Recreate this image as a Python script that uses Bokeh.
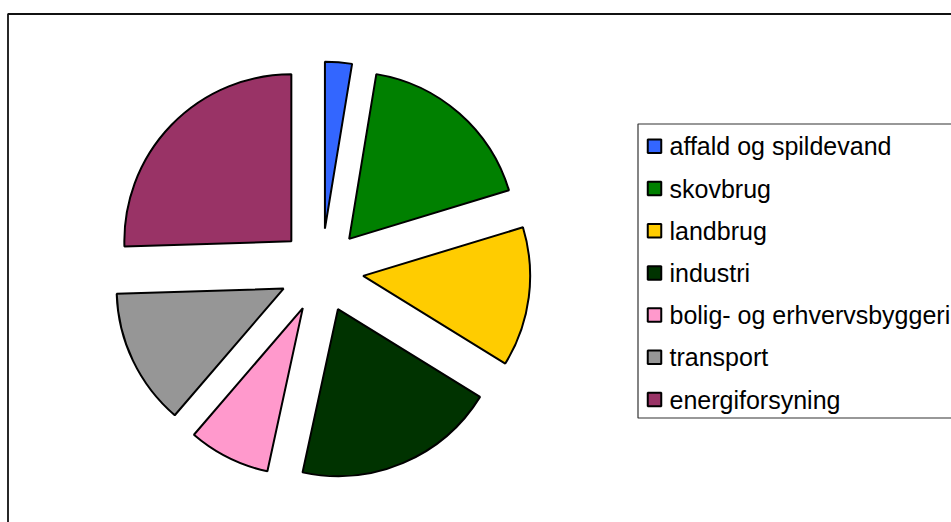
import math
from bokeh.plotting import figure
from bokeh.models import Range1d, ColumnDataSource
from bokeh.core.properties import value
from bokeh.embed import file_html
from bokeh.resources import INLINE

# ---- data ----
categories = ["affald og spildevand", "skovbrug", "landbrug", "industri",
              "bolig- og erhvervsbyggeri", "transport", "energiforsyning"]
shares = [2.6, 17.7, 13.5, 19.6, 7.9, 13.2, 25.5]
colors = ["#3366FF", "#008000", "#FFCC00", "#003300", "#FF99CC", "#969696", "#993366"]

# ---- layout (screen px; data y = H - screen y) ----
W, H = 951, 522
def sy(y):
    return H - y

p = figure(width=W, height=H, output_backend="svg", toolbar_location=None,
           x_range=Range1d(0, W), y_range=Range1d(0, H),
           min_border=0, outline_line_color=None, background_fill_color="white",
           border_fill_color="white")
p.axis.visible = False
p.grid.visible = False

# outer chart frame (extends past the visible area)
p.quad(left=[7.5], right=[W + 50], top=[sy(13.5)], bottom=[-50],
       fill_color=None, line_color="#111111", line_width=1.8)

# exploded pie
cx, cy = 321.0, sy(270.0)
R = 167.0
EXPLODE = 42.0
total = float(sum(shares))
starts, ends, xs, ys = [], [], [], []
acc = 0.0
for v in shares:
    a0 = acc / total * 360.0
    acc += v
    a1 = acc / total * 360.0
    mid = math.radians((a0 + a1) / 2.0)
    xs.append(cx + EXPLODE * math.sin(mid))
    ys.append(cy + EXPLODE * math.cos(mid))
    starts.append(math.radians(90.0 - a0))
    ends.append(math.radians(90.0 - a1))

src = ColumnDataSource(dict(x=xs, y=ys, start=starts, end=ends, color=colors))
p.wedge(x="x", y="y", radius=R, start_angle="start", end_angle="end",
        direction="clock", fill_color="color", line_color="#000000",
        line_width=2, source=src)

# legend box
p.quad(left=[637.5], right=[W + 50], top=[sy(123.5)], bottom=[sy(417.5)],
       fill_color="white", line_color="#333333", line_width=1.2)

row_y = [145.8 + i * 42.2 for i in range(len(categories))]
lsrc = ColumnDataSource(dict(
    x=[654.0] * len(categories),
    y=[sy(v) for v in row_y],
    ty=[sy(v) for v in row_y],
    tx=[669.0] * len(categories),
    label=categories,
    color=colors,
))
p.rect(x="x", y="y", width=13.5, height=13.5, fill_color="color",
       line_color="#000000", line_width=2, source=lsrc)
p.text(x="tx", y="ty", text="label", source=lsrc,
       text_font=value("Liberation Sans"), text_font_size="25px",
       text_color="#000000", text_baseline="middle", text_align="left")

open("out.html", "w").write(file_html(p, INLINE))
